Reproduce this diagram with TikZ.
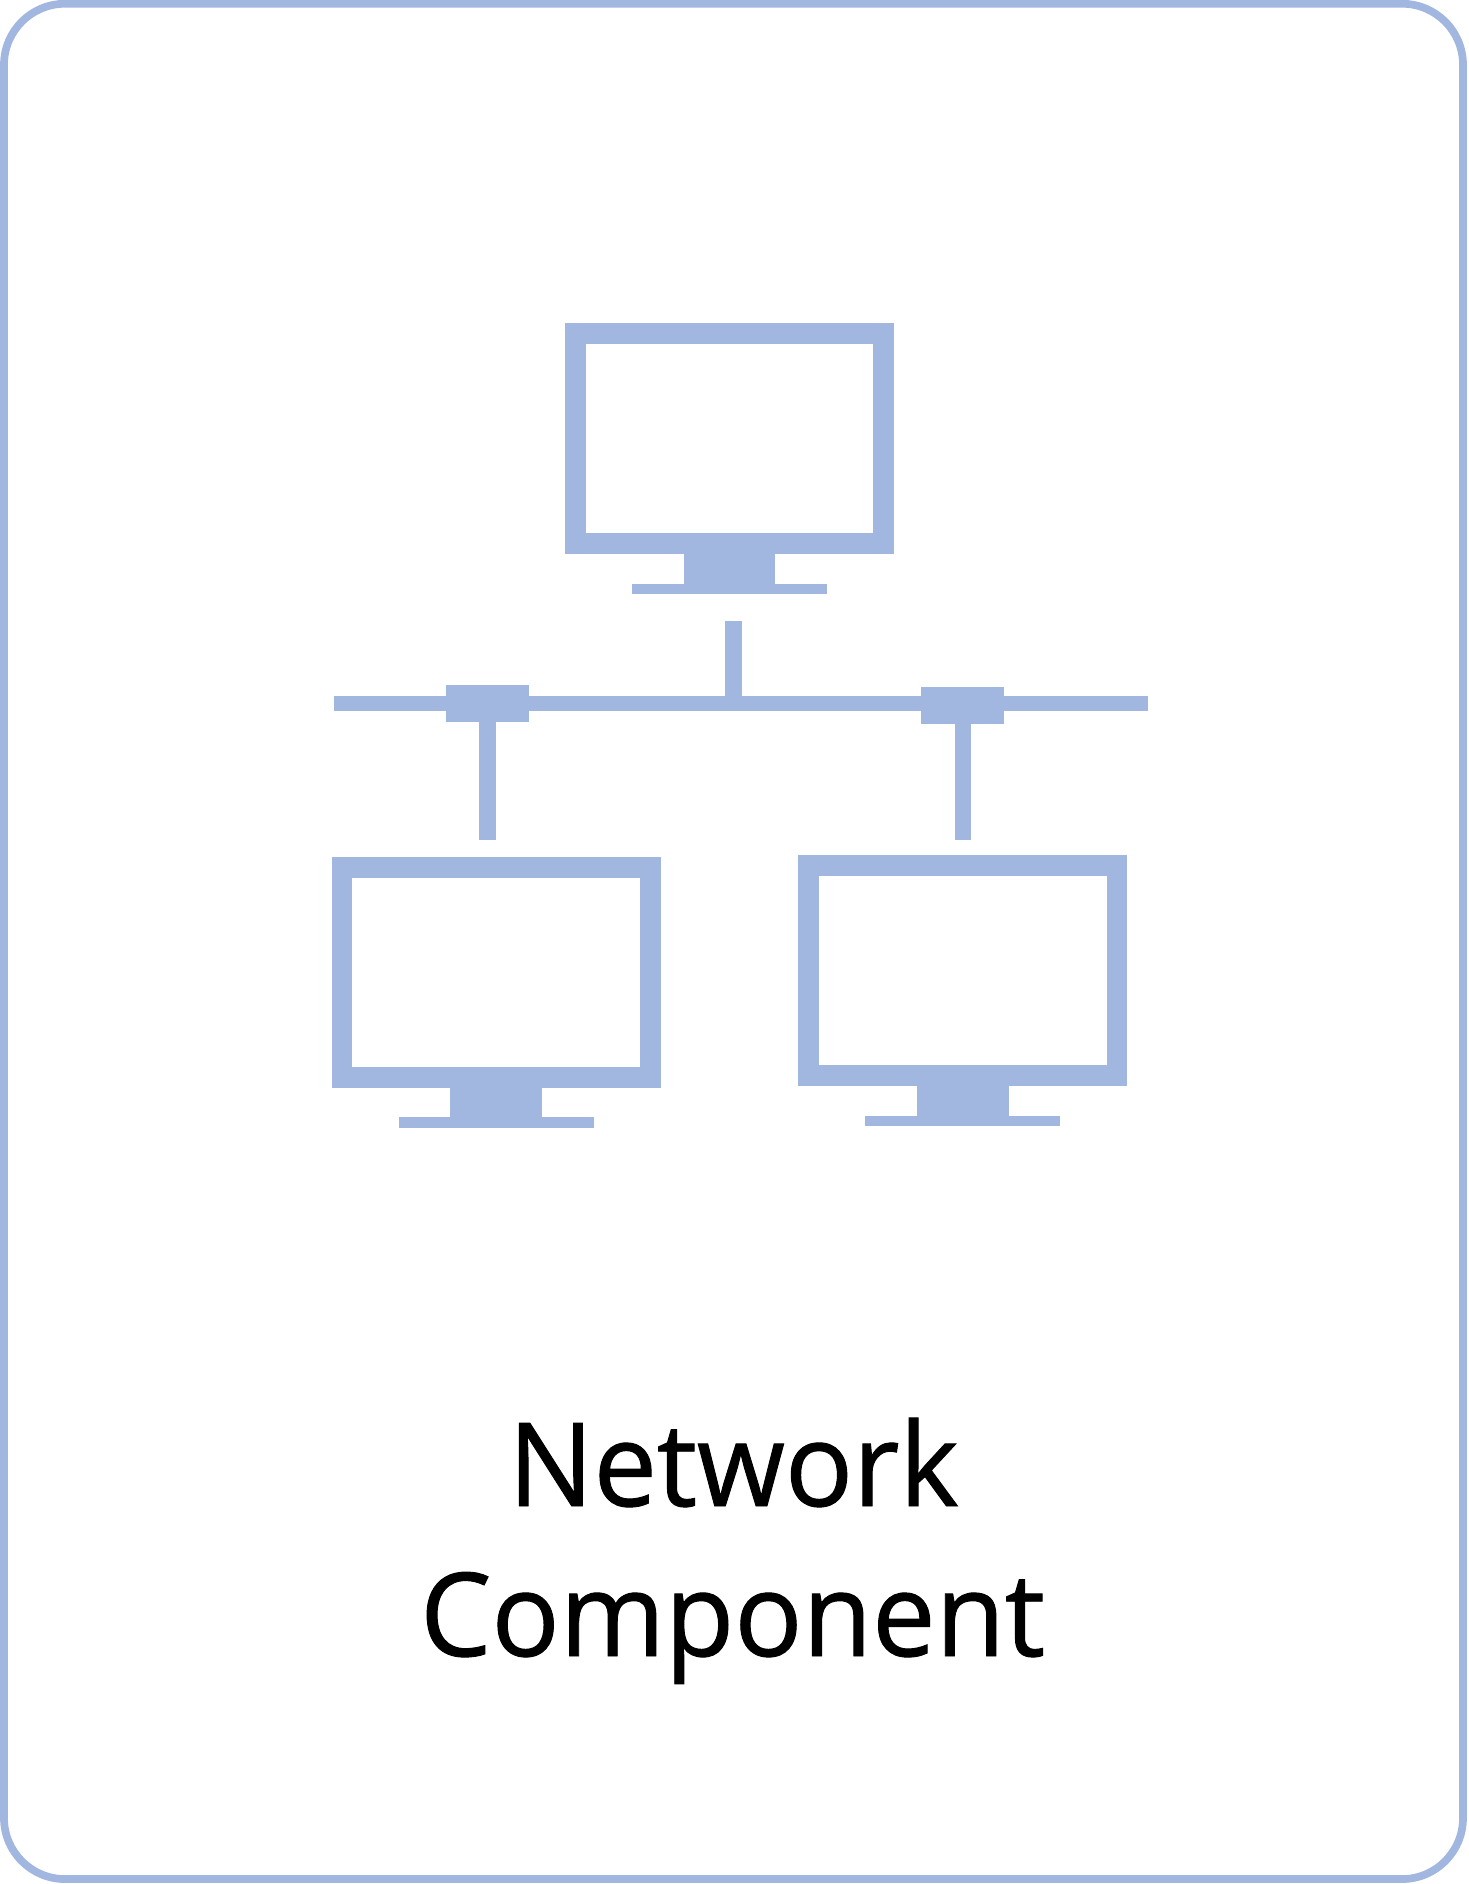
\documentclass[tikz,border=0pt]{standalone}
\usepackage{fontspec}
\setmainfont[FakeStretch=0.975,FakeBold=0.8]{Open Sans}
\usetikzlibrary{positioning}
\definecolor{netblue}{HTML}{A1B7E0}

\tikzset{
  card/.style={draw=netblue,line width=7.7pt,rounded corners=61pt,minimum width=1459pt,minimum height=1875.3pt},
  screen/.style={draw=netblue,fill=white,line width=20.8pt,minimum width=308.2pt,minimum height=209.9pt,inner sep=0pt},
  neck/.style={fill=netblue,minimum width=91.7pt,minimum height=29.5pt,inner sep=0pt,outer sep=0pt},
  foot/.style={fill=netblue,minimum width=195pt,minimum height=10.7pt,inner sep=0pt,outer sep=0pt},
  tap/.style={fill=netblue,minimum width=83pt,minimum height=36.6pt,inner sep=0pt,outer sep=0pt},
  bus/.style={draw=netblue,line width=15pt},
  stem/.style={draw=netblue,line width=16.8pt},
  caption/.style={font=\fontsize{116}{116}\selectfont,text=black,inner sep=0pt,anchor=base}
}

\begin{document}
\begin{tikzpicture}[x=1pt,y=-1pt]
\useasboundingbox (0,0) rectangle (1468,1884);
\node[card] (frame) at (733.5,941.4) {};
%monitors
\foreach \name/\x/\y in {top/729.5/438.65,left/496/972.5,right/962.8/970.65}{
  \node[screen] (screen-\name) at (\x,\y) {};
  \node[neck,below=0pt of screen-\name] (neck-\name) {};
  \node[foot,below=0pt of neck-\name] (foot-\name) {};
}
%bus line
\coordinate (bus-west) at (334.3,703.5);
\coordinate (bus-east) at (1148.3,703.5);
\coordinate (bus-mid) at (733.8,703.5);
\coordinate (top-end) at (733.8,621);
\coordinate (left-end) at (487.8,839.7);
\coordinate (right-end) at (963,839.7);
\draw[bus] (bus-west) -- (bus-east);
\node[tap] (tap-left) at (487.7,703.5) {};
\node[tap] (tap-right) at (962.8,705.5) {};
\draw[stem] (top-end) -- (bus-mid);
\draw[stem] (tap-left.south -| left-end) -- (left-end);
\draw[stem] (tap-right.south -| right-end) -- (right-end);
%caption
\node[caption] (label-first) at (733.5,1506) {Network};
\node[caption] (label-second) at (732.5,1656) {Component};
\end{tikzpicture}
\end{document}
